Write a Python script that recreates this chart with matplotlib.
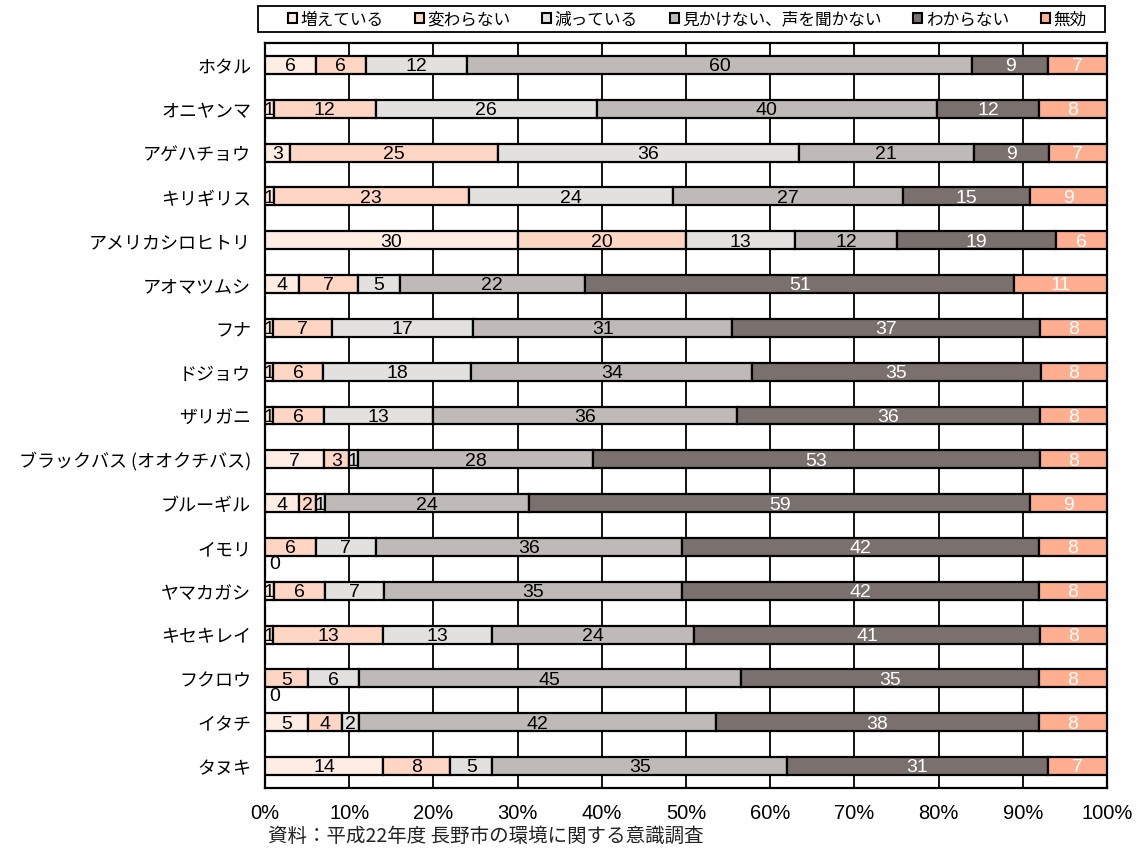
import matplotlib
matplotlib.use('Agg')
import matplotlib.pyplot as plt
from matplotlib.patches import Patch, Rectangle
import numpy as np

plt.rcParams['font.family'] = ['Noto Sans CJK JP', 'DejaVu Sans']

# categories top to bottom
species = ['ホタル', 'オニヤンマ', 'アゲハチョウ', 'キリギリス', 'アメリカシロヒトリ',
           'アオマツムシ', 'フナ', 'ドジョウ', 'ザリガニ', 'ブラックバス (オオクチバス)',
           'ブルーギル', 'イモリ', 'ヤマカガシ', 'キセキレイ', 'フクロウ', 'イタチ', 'タヌキ']

answers = ['増えている', '変わらない', '減っている', '見かけない、声を聞かない', 'わからない', '無効']

increasing = [6, 1, 3, 1, 30, 4, 1, 1, 1, 7, 4, 0, 1, 1, 0, 5, 14]
unchanged = [6, 12, 25, 23, 20, 7, 7, 6, 6, 3, 2, 6, 6, 13, 5, 4, 8]
decreasing = [12, 26, 36, 24, 13, 5, 17, 18, 13, 1, 1, 7, 7, 13, 6, 2, 5]
not_seen = [60, 40, 21, 27, 12, 22, 31, 34, 36, 28, 24, 36, 35, 24, 45, 42, 35]
unknown = [9, 12, 9, 15, 19, 51, 37, 35, 36, 53, 59, 42, 42, 41, 35, 38, 31]
invalid = [7, 8, 7, 9, 6, 11, 8, 8, 8, 8, 9, 8, 8, 8, 8, 8, 7]

colors = ['#FFEDE4', '#FFD6C4', '#E3E0E0', '#BFBAB7', '#7A706D', '#FFAE90']
text_colors = ['black', 'black', 'black', 'black', 'white', 'white']

series = np.array([increasing, unchanged, decreasing, not_seen, unknown, invalid], dtype=float)
shares = series / series.sum(axis=0) * 100

W, H = 1148, 854
fig = plt.figure(figsize=(W / 100, H / 100), dpi=100)
ax = fig.add_axes([265 / W, 1 - 789 / H, (1107 - 265) / W, (789 - 44) / H])

y = np.arange(len(species))
left = np.zeros(len(species))
for k in range(len(answers)):
    ax.barh(y, shares[k], left=left, height=0.41, color=colors[k],
            edgecolor='black', linewidth=1.6, zorder=3)
    for i in range(len(species)):
        v = int(series[k, i])
        if v == 0:
            # zero labels fall just below the bar, as in the original
            ax.text(left[i] + 0.5, i + 0.38, '0', ha='left', va='center',
                    fontsize=14, family='Liberation Sans', color='black', zorder=4)
            continue
        ax.text(left[i] + shares[k, i] / 2, i + 0.02, str(v), ha='center', va='center',
                fontsize=14, family='Liberation Sans', color=text_colors[k], zorder=4)
    left += shares[k]

ax.set_xlim(0, 100)
ax.set_ylim(len(species) - 0.5, -0.5)
ax.set_xticks(np.arange(0, 101, 10))
ax.set_xticklabels([f'{t}%' for t in range(0, 101, 10)], family='Liberation Sans', fontsize=14.5)
ax.set_yticks(y)
ax.set_yticklabels(species, fontsize=13)
ax.tick_params(axis='both', length=0)
ax.tick_params(axis='x', pad=11)
ax.tick_params(axis='y', pad=10)
ax.xaxis.grid(True, color='black', linewidth=1.3)
ax.set_axisbelow(True)
for s in ax.spines.values():
    s.set_linewidth(1.6)
    s.set_color('black')

# legend box drawn separately so it spans the full width like the original
fig.patches.append(Rectangle((258 / W, 1 - 33 / H), (1105 - 258) / W, 26 / H,
                             transform=fig.transFigure, facecolor='white',
                             edgecolor='black', linewidth=1.3))
handles = [Patch(facecolor=c, edgecolor='black', linewidth=1.5) for c in colors]
fig.legend(handles, answers, loc='center', ncol=6, bbox_to_anchor=(687 / W, 1 - 20 / H),
           fontsize=12, frameon=False, handlelength=0.55, handleheight=0.55,
           handletextpad=0.2, columnspacing=1.9, borderpad=0.1, borderaxespad=0)

fig.text(268 / W, 1 - 836 / H, '資料：平成22年度 長野市の環境に関する意識調査',
         fontsize=14, va='center', ha='left', color='#222222')

fig.savefig('out.png', dpi=100)
